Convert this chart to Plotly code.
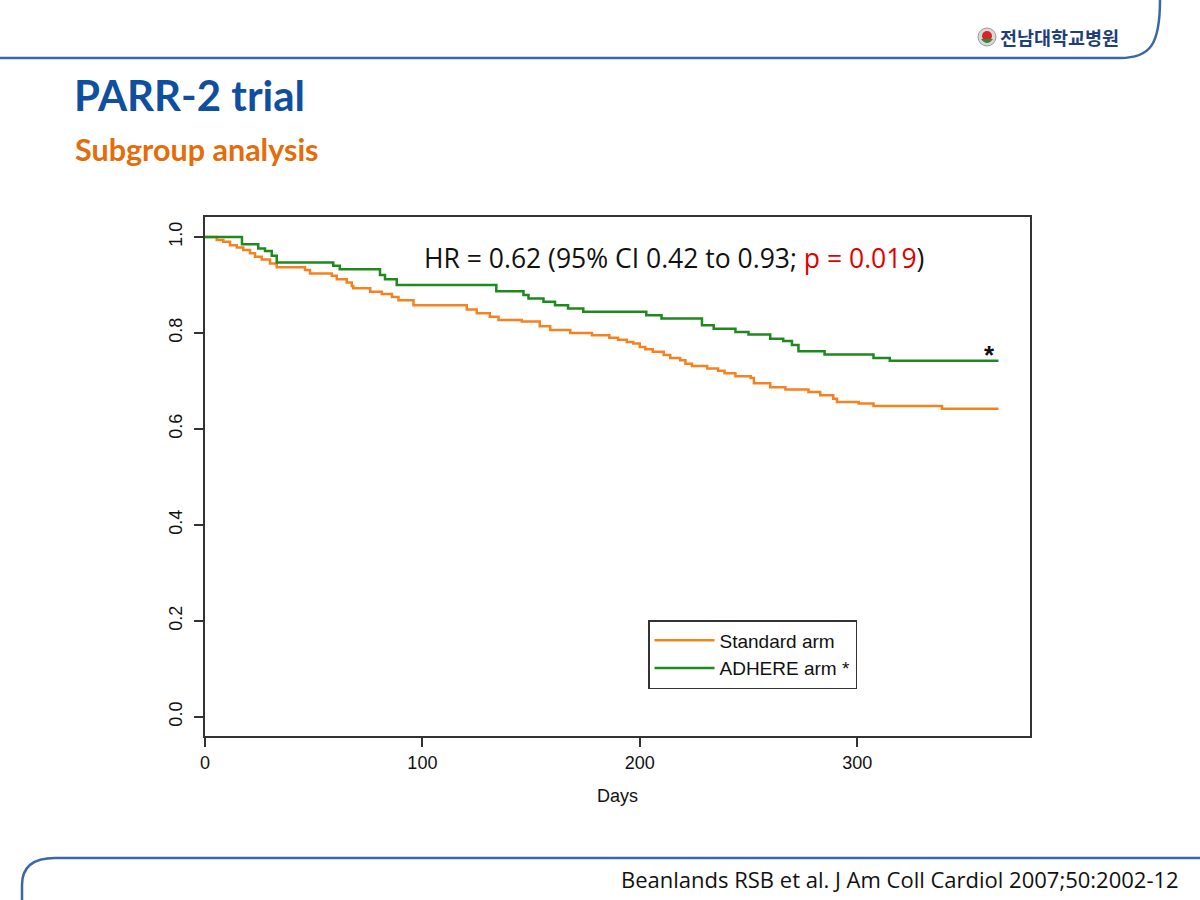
import plotly.graph_objects as go

# Kaplan-Meier steps (days, event-free survival)
standard_days = [0, 5.4, 8.4, 11.5, 14.6, 17.6, 20.7, 23, 26.1, 29.9, 33, 46, 48.3,
                 58.3, 60.6, 65.2, 67.5, 68.2, 76, 81.3, 86, 89, 95.9, 120.4, 125,
                 131, 135, 145.7, 154, 158.8, 168, 178, 186, 190, 194, 197, 200,
                 202.5, 206, 211, 214, 218.6, 221, 224, 231, 236, 239, 244, 251,
                 252.5, 260, 267, 277.6, 283, 289, 290.7, 300.7, 307.5, 339, 365]
standard_surv = [1.0, 0.994, 0.990, 0.983, 0.978, 0.973, 0.966, 0.959, 0.953, 0.945,
                 0.937, 0.931, 0.924, 0.919, 0.912, 0.905, 0.898, 0.893, 0.886, 0.881,
                 0.875, 0.868, 0.858, 0.849, 0.841, 0.834, 0.827, 0.824, 0.814, 0.806,
                 0.800, 0.795, 0.790, 0.786, 0.781, 0.778, 0.771, 0.766, 0.761, 0.754,
                 0.748, 0.743, 0.736, 0.731, 0.726, 0.721, 0.716, 0.710, 0.706, 0.695,
                 0.687, 0.682, 0.677, 0.670, 0.663, 0.656, 0.653, 0.648, 0.642, 0.642]

adhere_days = [0, 17, 24.5, 27.6, 30.7, 33, 59, 62, 80.5, 82.8, 88.2, 134, 146.5,
               148.8, 155.7, 161, 167, 174, 203, 210, 228.6, 234, 244, 250, 260,
               266, 270, 273, 285, 307.5, 315, 365]
adhere_surv = [1.0, 0.985, 0.976, 0.971, 0.961, 0.947, 0.940, 0.933, 0.921, 0.912,
               0.900, 0.887, 0.879, 0.872, 0.865, 0.858, 0.851, 0.844, 0.837, 0.830,
               0.816, 0.809, 0.802, 0.797, 0.788, 0.783, 0.775, 0.762, 0.755, 0.748,
               0.742, 0.742]

x_ticks = [0, 100, 200, 300]
y_ticks = [0.0, 0.2, 0.4, 0.6, 0.8, 1.0]
y_ticklabels = ["0.0", "0.2", "0.4", "0.6", "0.8", "1.0"]

W, H = 1200, 900
L, R, T, B = 205, 170, 217, 164
ORANGE = "#F5821F"
GREEN = "#1E8A1E"
BLUE_LINE = "#3A67A8"


def px(x):
    return (x - L) / (W - L - R)


def py(y):
    return (H - B - y) / (H - T - B)


fig = go.Figure()
fig.add_trace(go.Scatter(x=standard_days, y=standard_surv, mode="lines",
                         line=dict(color=ORANGE, width=2.5, shape="hv"),
                         name="Standard arm"))
fig.add_trace(go.Scatter(x=adhere_days, y=adhere_surv, mode="lines",
                         line=dict(color=GREEN, width=2.5, shape="hv"),
                         name="ADHERE arm *"))

axis_font = dict(family="Liberation Sans, Arial", size=18, color="#111")
fig.update_xaxes(range=[0, 379.5], tickvals=x_ticks, ticks="outside", ticklen=9,
                 tickcolor="#333", tickwidth=1.5, showline=True, linecolor="#333",
                 linewidth=1.5, mirror=True, showgrid=False, zeroline=False,
                 tickfont=axis_font, ticklabelstandoff=1,
                 title=dict(text="Days", font=axis_font, standoff=17))
fig.update_yaxes(range=[-0.04, 1.0417], tickvals=y_ticks, ticktext=y_ticklabels,
                 tickangle=-90, ticks="outside", ticklen=9, tickcolor="#333",
                 tickwidth=1.5, showline=True, linecolor="#333", linewidth=1.5,
                 mirror=True, showgrid=False, zeroline=False, tickfont=axis_font,
                 ticklabelstandoff=5)

annots = [
    dict(x=100, y=0.957, xref="x", yref="y", xanchor="left", yanchor="middle",
         text="HR = 0.62 (95% CI 0.42 to 0.93; <span style='color:#E00000'>p = 0.019</span>)",
         font=dict(family="Open Sans", size=26.5, color="#111")),
    dict(x=adhere_days[-1] - 4, y=adhere_surv[-1] + 0.012, xref="x", yref="y",
         xanchor="center", yanchor="middle", text="<b>*</b>",
         font=dict(family="Liberation Sans", size=26, color="#111")),
    dict(x=px(72), y=py(95), xref="paper", yref="paper", xanchor="left",
         yanchor="middle", text="<b>PARR-2 trial</b>",
         font=dict(family="Lato", size=42, color="#0F4FA0")),
    dict(x=px(73), y=py(149), xref="paper", yref="paper", xanchor="left",
         yanchor="middle", text="<b>Subgroup analysis</b>",
         font=dict(family="Lato", size=30.5, color="#E46C0A")),
    dict(x=px(1181), y=py(879), xref="paper", yref="paper", xanchor="right",
         yanchor="middle", text="Beanlands RSB et al. J Am Coll Cardiol 2007;50:2002-12",
         font=dict(family="Open Sans", size=22, color="#111")),
    dict(x=px(998), y=py(37), xref="paper", yref="paper", xanchor="left",
         yanchor="middle", text="<b>전남대학교병원</b>",
         font=dict(family="Noto Sans CJK KR", size=18.5, color="#1F3F7A")),
]
for a in annots:
    a["showarrow"] = False

shapes = [
    # slide frame lines
    dict(type="path", xref="paper", yref="paper",
         path=f"M {px(0)},{py(58)} L {px(1120)},{py(58)} "
              f"C {px(1150)},{py(58)} {px(1160)},{py(45)} {px(1160)},{py(0)}",
         line=dict(color=BLUE_LINE, width=2.5)),
    dict(type="path", xref="paper", yref="paper",
         path=f"M {px(22)},{py(900)} L {px(22)},{py(885)} "
              f"C {px(22)},{py(865)} {px(35)},{py(858)} {px(55)},{py(858)} "
              f"L {px(1200)},{py(858)}",
         line=dict(color=BLUE_LINE, width=2.5)),
    # hospital logo
    dict(type="circle", xref="paper", yref="paper",
         x0=px(978), x1=px(996), y0=py(46), y1=py(28),
         fillcolor="#D8D8D8", line=dict(color="#9A9A9A", width=1)),
    dict(type="circle", xref="paper", yref="paper",
         x0=px(982), x1=px(992), y0=py(41), y1=py(31),
         fillcolor="#D9252A", line=dict(width=0)),
    dict(type="path", xref="paper", yref="paper",
         path=f"M {px(981)},{py(39)} Q {px(987)},{py(47)} {px(993)},{py(39)} Z",
         fillcolor="#2E8B3A", line=dict(width=0)),
]

fig.update_layout(
    width=W, height=H,
    margin=dict(l=L, r=R, t=T, b=B),
    paper_bgcolor="white", plot_bgcolor="white",
    annotations=annots, shapes=shapes,
    legend=dict(x=px(648), y=py(620), xanchor="left", yanchor="top",
                bordercolor="#333", borderwidth=1.5, bgcolor="white",
                font=dict(family="Liberation Sans, Arial", size=19, color="#111"),
                itemwidth=60, tracegroupgap=0),
    showlegend=True,
)

fig.write_html("out.html", config={"displayModeBar": False})

# drop the browser's default body margin so the page lines up with the slide
with open("out.html", encoding="utf-8") as f:
    page = f.read()
page = page.replace("<body>", '<body style="margin:0">', 1)
with open("out.html", "w", encoding="utf-8") as f:
    f.write(page)
